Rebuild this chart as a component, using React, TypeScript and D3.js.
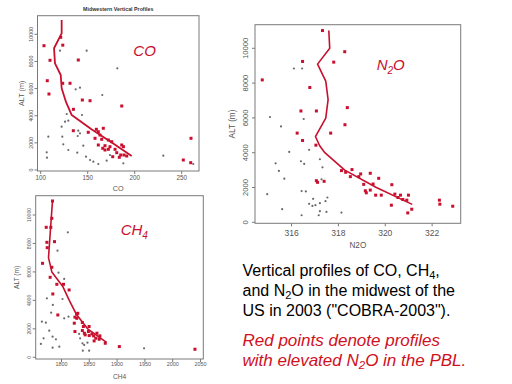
import React from 'react';
import * as d3 from 'd3';

type P = [number, number];

// ---------- CO panel data: [CO (ppb), ALT (m)] ----------
const coRed: P[] = [
  [103.5, 9160], [109.9, 8084], [107, 6580], [108.8, 5600], [123.4, 6390], [131.2, 6390],
  [140, 8106], [121.3, 9779], [123.5, 9200], [144.3, 5158], [152.5, 5107], [186.2, 4716],
  [134.8, 4472], [134.7, 2896], [150.6, 2778], [166.6, 3073], [159.2, 2999], [161.3, 2822],
  [163.1, 2579], [157.8, 2336], [164.9, 2262], [172, 2211], [175.5, 2086], [161.3, 1842],
  [168.4, 1791], [173.7, 1717], [166, 1599], [168.4, 1474], [172, 1525], [179.1, 1525],
  [180.9, 1275], [185.1, 1105], [188.6, 1105], [191.5, 1032], [186.2, 1842], [188, 1717],
  [183.6, 936], [176.6, 980], [251.7, 737], [259.6, 538], [259.9, 2336],
];
const coGray: P[] = [
  [120.5, 8791], [148.9, 8791], [181.5, 7494], [137.2, 5946], [141.8, 6065], [165.5, 5527],
  [127.7, 4127], [143.9, 4053], [125.9, 3561], [129.4, 3635], [122.3, 3193], [140, 2898],
  [141.8, 2702], [139.4, 2506], [123, 2457], [108.1, 2457], [124, 1892], [145.3, 1793],
  [129.4, 1474], [106.4, 1302], [138.9, 1277], [106.7, 909], [148.2, 983], [152.5, 737],
  [156, 614], [161.3, 442], [170.2, 688], [173.7, 1105], [187.9, 491], [230.4, 1057],
  [262.3, 442],
];
const coMean: P[] = [
  [196.8, 1030], [176, 2000], [154, 3000], [133, 4050], [127, 5000], [122.3, 6020],
  [121.3, 7000], [115.2, 7860], [114.2, 8970], [122.3, 10070], [122.3, 11050],
];

// ---------- N2O panel data: [N2O (ppb), ALT (m)] ----------
const n2oRed: P[] = [
  [317.32, 11020], [318.27, 9804], [317.8, 9205], [316.47, 9244], [314.75, 8183], [316.78, 7747],
  [316.4, 6398], [317.06, 6398], [318.38, 6591], [318.28, 5608], [316.24, 5126], [316.47, 4702],
  [317.67, 5126], [317.04, 4433], [317.06, 2393], [317.11, 2297], [317.39, 2355], [318.13, 2972],
  [318.31, 2876], [318.51, 2625], [318.58, 3030], [318.87, 2625], [318.95, 2780], [319.36, 2818],
  [319.72, 2529], [319.08, 2181], [319.48, 2200], [319.15, 1814], [319.19, 1696], [319.36, 1852],
  [319.59, 1561], [319.83, 1561], [320.28, 2161], [320.26, 983], [320.41, 1620], [320.54, 1426],
  [320.65, 1561], [320.92, 1272], [320.99, 1561], [320.96, 540], [321.13, 752], [322.31, 1272],
  [322.33, 1041], [322.88, 925], [320.75, 1310],
];
const n2oGray: P[] = [
  [316.1, 8840], [316.45, 8840], [315.08, 6051], [315.55, 5512], [316.52, 5937], [315.9, 4047],
  [316.75, 4163], [315.32, 3392], [315.46, 2953], [315.69, 2509], [316.4, 3508], [316.54, 3353],
  [317.21, 3623], [317.32, 3161], [317.28, 2470], [314.96, 1619], [316.43, 1794], [316.61, 1773],
  [316.92, 1349], [316.75, 1060], [316.89, 944], [317.02, 983], [317.21, 1099], [317.45, 1214],
  [317.53, 1426], [315.6, 752], [316.43, 405], [317.16, 405], [317.21, 637], [317.49, 598],
  [318.13, 560],
];
const n2oMean: P[] = [
  [321.15, 1030], [319.62, 2000], [318.27, 3000], [317.42, 4000], [317.2, 4400], [317.02, 4930],
  [317.46, 5990], [317.56, 7050], [317.46, 8110], [317.11, 9090], [317.63, 10000], [317.59, 11020],
];

// ---------- CH4 panel data: [CH4 (ppb), ALT (m)] ----------
const ch4Red: P[] = [
  [1783.8, 10984], [1782.6, 9766], [1772.5, 9134], [1780.8, 9134], [1773.7, 8080], [1787.4, 8127],
  [1774.3, 7705], [1765.9, 6604], [1782.6, 6323], [1779.6, 5621], [1791.6, 5129], [1803.6, 5129],
  [1813.7, 4731], [1784.4, 4450], [1793.4, 2974], [1829.3, 3091], [1827.5, 2740], [1824.2, 2820],
  [1827.2, 3031], [1823, 2397], [1837.5, 2444], [1839.3, 2162], [1849.6, 2162], [1837.5, 1880],
  [1841.1, 1692], [1848.4, 1810], [1842.6, 1575], [1849.8, 1527], [1854.7, 1645], [1857.7, 1504],
  [1863.7, 1692], [1861.7, 1340], [1858.7, 1152], [1867.8, 1269], [1869, 1504], [1878.7, 987],
  [1824.2, 1810], [1904, 752], [2040, 564],
];
const ch4Gray: P[] = [
  [1811.4, 8783], [1792.8, 7494], [1794.6, 5949], [1804.8, 5504], [1773.7, 4145], [1801.8, 4098],
  [1784.4, 3677], [1781.4, 3138], [1804.8, 2740], [1764.7, 2506], [1771.9, 2436], [1777.9, 1874],
  [1767.8, 1335], [1784, 1452], [1790, 1265], [1762.9, 937], [1784, 679], [1796, 749],
  [1831.7, 1639], [1833.5, 1335], [1837.7, 984], [1840.7, 866], [1846.7, 1030], [1838.3, 468],
  [1849.7, 468], [1948.5, 632], [1812.6, 2857],
];
const ch4Mean: P[] = [
  [1881, 1050], [1847, 2000], [1827, 3000], [1814, 4000], [1802, 5000], [1782.6, 6000],
  [1776.6, 7000], [1778.4, 8000], [1780.2, 9000], [1782, 10000], [1783.8, 10984],
];

// ---------- ticks ----------
const altTicks = [0, 2000, 4000, 6000, 8000, 10000];
const coTicks = [100, 150, 200, 250];
const n2oTicks = [316, 318, 320, 322];
const ch4Ticks = [1800, 1850, 1900, 1950, 2000, 2050];

const RED = '#c8102e';
const GRAY_PT = '#6a6a6a';
const AXIS = '#7a7a7a';
const LABEL = '#555';
const FONT = '"Liberation Sans", Arial, sans-serif';

interface PanelProps {
  box: [number, number, number, number]; // left, top, right, bottom
  xDomain: [number, number];
  yDomain: [number, number];
  xTicks: number[];
  red: P[];
  gray: P[];
  mean: P[];
  xTitle: string;
  xTickFs: number;
  yTickFs: number;
  titleFs: number;
  yTickX: number;
  xTickY: number;
  xTitleY: number;
  yTitleX: number;
  lineW: number;
}

function Panel(p: PanelProps) {
  const [l, t, r, b] = p.box;
  const x = d3.scaleLinear().domain(p.xDomain).range([l, r]);
  const y = d3.scaleLinear().domain(p.yDomain).range([b, t]);
  const line = d3.line<P>().x((d) => x(d[0])).y((d) => y(d[1]));
  const cy = (t + b) / 2;
  const cx = (l + r) / 2;
  return (
    <g fontFamily={FONT}>
      {p.gray.map((d, i) => (
        <circle key={'g' + i} cx={x(d[0])} cy={y(d[1])} r={1.1} fill={GRAY_PT} />
      ))}
      {p.red.map((d, i) => (
        <rect key={'r' + i} x={x(d[0]) - 1.5} y={y(d[1]) - 1.5} width={3} height={3} fill={RED} />
      ))}
      <path d={line(p.mean) || ''} fill="none" stroke={RED} strokeWidth={p.lineW} strokeLinejoin="round" />
      <rect x={l} y={t} width={r - l} height={b - t} fill="none" stroke={AXIS} strokeWidth={1} />
      {altTicks.map((v) => (
        <g key={'y' + v}>
          <line x1={l} x2={l - 3} y1={y(v)} y2={y(v)} stroke={AXIS} />
          <text
            transform={`translate(${p.yTickX},${y(v)}) rotate(-90)`}
            textAnchor="middle"
            fontSize={p.yTickFs}
            fill={LABEL}
          >
            {v}
          </text>
        </g>
      ))}
      {p.xTicks.map((v) => (
        <g key={'x' + v}>
          <line x1={x(v)} x2={x(v)} y1={b} y2={b + 3} stroke={AXIS} />
          <text x={x(v)} y={p.xTickY} textAnchor="middle" fontSize={p.xTickFs} fill={LABEL}>
            {v}
          </text>
        </g>
      ))}
      <text x={cx} y={p.xTitleY} textAnchor="middle" fontSize={p.titleFs} fill={LABEL}>
        {p.xTitle}
      </text>
      <text
        transform={`translate(${p.yTitleX},${cy}) rotate(-90)`}
        textAnchor="middle"
        fontSize={p.titleFs}
        fill={LABEL}
      >
        ALT (m)
      </text>
    </g>
  );
}

export default function App() {
  return (
    <svg
      width={512}
      height={384}
      style={{ position: 'absolute', left: 0, top: 0, background: '#fff' }}
      fontFamily={FONT}
    >
      <rect width={512} height={384} fill="#fff" />
      <text x={118.3} y={10.5} textAnchor="middle" fontSize={5.3} fontWeight="bold" fill="#333">
        Midwestern Vertical Profiles
      </text>
      <Panel
        box={[37.5, 15.7, 199, 171]}
        xDomain={[96.6, 268.4]}
        yDomain={[-74, 11371]}
        xTicks={coTicks}
        red={coRed}
        gray={coGray}
        mean={coMean}
        xTitle="CO"
        xTickFs={6.3}
        yTickFs={5.3}
        titleFs={7.2}
        yTickX={33}
        xTickY={179.8}
        xTitleY={190.5}
        yTitleX={24.3}
        lineW={1.8}
      />
      <Panel
        box={[255, 24.7, 460.7, 223.3]}
        xDomain={[314.44, 323.22]}
        yDomain={[-57, 11356]}
        xTicks={n2oTicks}
        red={n2oRed}
        gray={n2oGray}
        mean={n2oMean}
        xTitle="N2O"
        xTickFs={8.5}
        yTickFs={7.6}
        titleFs={8.2}
        yTickX={248.2}
        xTickY={235.8}
        xTitleY={248}
        yTitleX={235}
        lineW={1.6}
      />
      <Panel
        box={[35.7, 195.7, 203.3, 359]}
        xDomain={[1753.6, 2055]}
        yDomain={[-120, 11356]}
        xTicks={ch4Ticks}
        red={ch4Red}
        gray={ch4Gray}
        mean={ch4Mean}
        xTitle="CH4"
        xTickFs={5.4}
        yTickFs={5.1}
        titleFs={6.6}
        yTickX={30.6}
        xTickY={366}
        xTitleY={379}
        yTitleX={19}
        lineW={1.6}
      />
      {/* panel titles */}
      <g fill={RED} fontStyle="italic" fontSize={15}>
        <text x={133.3} y={55.7}>CO</text>
        <text x={376.7} y={70}>
          N<tspan fontSize={10} dy={4}>2</tspan><tspan dy={-4}>O</tspan>
        </text>
        <text x={120.7} y={235}>
          CH<tspan fontSize={10} dy={4}>4</tspan>
        </text>
      </g>
      {/* caption */}
      <g fontSize={16} fill="#000">
        <text x={242.5} y={275.7}>
          Vertical profiles of CO, CH<tspan fontSize={11} dy={3.5}>4</tspan><tspan dy={-3.5}>,</tspan>
        </text>
        <text x={242.5} y={295.7}>
          and N<tspan fontSize={11} dy={3.5}>2</tspan><tspan dy={-3.5}>O in the midwest of the</tspan>
        </text>
        <text x={242.5} y={315.7}>US in 2003 ("COBRA-2003").</text>
      </g>
      <g fontSize={17} fill="#d0101e" fontStyle="italic">
        <text x={242.5} y={345.5}>Red points denote profiles</text>
        <text x={242.5} y={365.5}>
          with elevated N<tspan fontSize={11.5} dy={3.5}>2</tspan><tspan dy={-3.5}>O in the PBL.</tspan>
        </text>
      </g>
    </svg>
  );
}
